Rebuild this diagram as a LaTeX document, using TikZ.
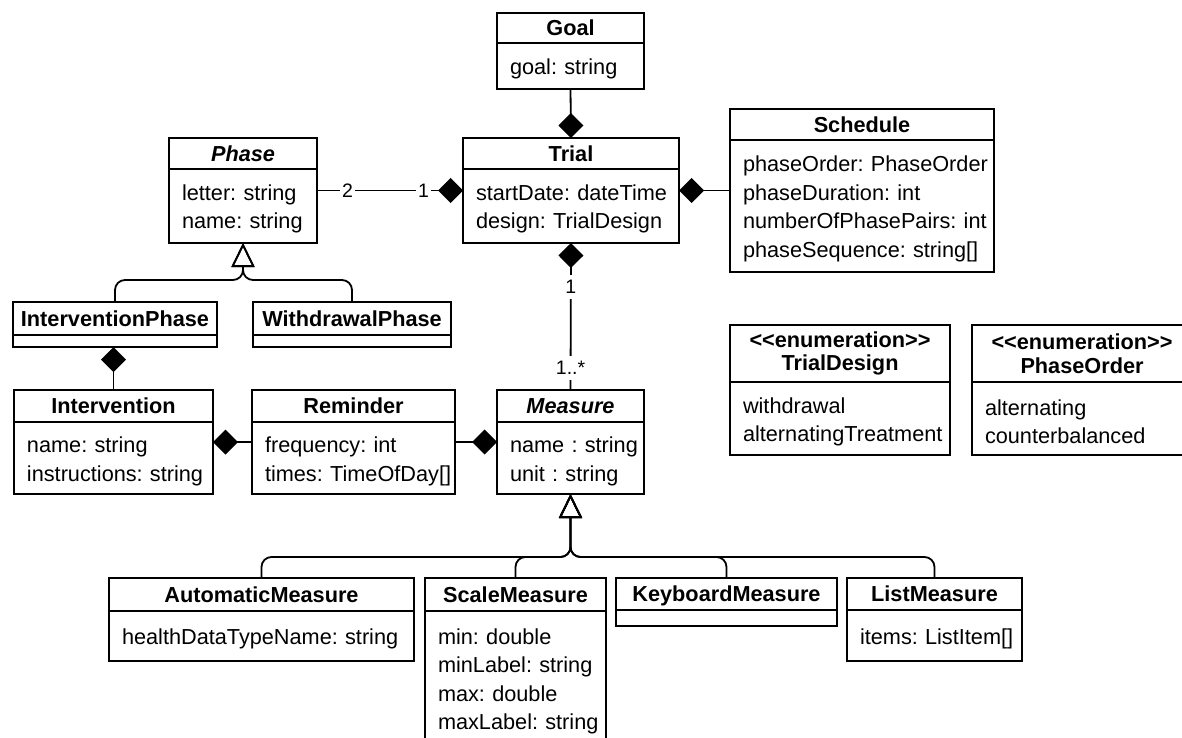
\documentclass[tikz,border=0pt]{standalone}
\usepackage{fontspec}
\setmainfont{Liberation Sans}
\usetikzlibrary{positioning, arrows.meta, fit}
\hyphenpenalty=10000
\exhyphenpenalty=10000

\begin{document}
\begin{tikzpicture}[
    x=1pt, y=-1pt,
    line width=1.8pt,
    umlhead/.style={draw, anchor=north west, outer sep=0pt, inner sep=0pt, text height=15.6pt, text depth=0pt, font=\fontsize{21.7pt}{28.5pt}\selectfont\bfseries},
    enumhead/.style={draw, anchor=north west, outer sep=0pt, inner sep=0pt, align=center, font=\fontsize{21.7pt}{23.5pt}\selectfont\bfseries},
    umlempty/.style={draw, outer sep=0pt, inner xsep=13pt, inner ysep=0pt, align=left, font=\fontsize{21.7pt}{28.5pt}\selectfont},
    umlbody/.style={umlempty, execute at begin node={\rule{0pt}{22pt}}},
    umlfit/.style={inner sep=0pt, outer sep=0pt},
    comp/.style={-{Diamond[length=25pt, width=25pt]}},
    inherit/.style={rounded corners=10pt, -{Triangle[open, length=24pt, width=23pt]}},
    mult/.style={fill=white, inner xsep=2pt, inner ysep=5pt, font=\fontsize{19.5pt}{19.5pt}\selectfont}
]
    \useasboundingbox (0,0) rectangle (1182,738);

    % Trial and its parts (top)
    \node[umlhead, minimum width=147pt, minimum height=30pt] (goalH) at (497,13) {Goal};
    \node[umlbody, text width=121pt, minimum height=46pt, below=0pt of goalH] (goalB) {goal:~string};
    \node[umlfit, fit=(goalH)(goalB)] (goal) {};

    \node[umlhead, minimum width=216pt, minimum height=31pt] (trialH) at (463,138) {Trial};
    \node[umlbody, text width=190pt, minimum height=74pt, below=0pt of trialH] (trialB) {startDate:~dateTime\\design:~TrialDesign};
    \node[umlfit, fit=(trialH)(trialB)] (trial) {};

    \node[umlhead, minimum width=148pt, minimum height=31pt] (phaseH) at (169,138) {\itshape Phase};
    \node[umlbody, text width=122pt, minimum height=74pt, below=0pt of phaseH] (phaseB) {letter:~string\\name:~string};
    \node[umlfit, fit=(phaseH)(phaseB)] (phase) {};

    \node[umlhead, minimum width=264pt, minimum height=31pt] (scheduleH) at (730,109) {Schedule};
    \node[umlbody, text width=238pt, minimum height=132pt, below=0pt of scheduleH] (scheduleB) {phaseOrder:~PhaseOrder\\phaseDuration:~int\\numberOfPhasePairs:~int\\phaseSequence:~string[]};
    \node[umlfit, fit=(scheduleH)(scheduleB)] (schedule) {};

    % Phase subclasses
    \node[umlhead, minimum width=204pt, minimum height=33pt] (iphaseH) at (13,302) {InterventionPhase};
    \node[umlempty, text width=178pt, minimum height=12pt, below=0pt of iphaseH] (iphaseB) {};
    \node[umlfit, fit=(iphaseH)(iphaseB)] (iphase) {};

    \node[umlhead, minimum width=198pt, minimum height=33pt] (wphaseH) at (253,302) {WithdrawalPhase};
    \node[umlempty, text width=172pt, minimum height=12pt, below=0pt of wphaseH] (wphaseB) {};
    \node[umlfit, fit=(wphaseH)(wphaseB)] (wphase) {};

    % Middle row
    \node[umlhead, minimum width=199pt, minimum height=32pt] (interventionH) at (14,390) {Intervention};
    \node[umlbody, text width=173pt, minimum height=72pt, below=0pt of interventionH] (interventionB) {name:~string\\instructions:~string};
    \node[umlfit, fit=(interventionH)(interventionB)] (intervention) {};

    \node[umlhead, minimum width=203pt, minimum height=32pt] (reminderH) at (252,390) {Reminder};
    \node[umlbody, text width=177pt, minimum height=72pt, below=0pt of reminderH] (reminderB) {frequency:~int\\times:~TimeOfDay[]};
    \node[umlfit, fit=(reminderH)(reminderB)] (reminder) {};

    \node[umlhead, minimum width=147pt, minimum height=32pt] (measureH) at (497,390) {\itshape Measure};
    \node[umlbody, text width=121pt, minimum height=72pt, below=0pt of measureH] (measureB) {name~:~string\\unit~:~string};
    \node[umlfit, fit=(measureH)(measureB)] (measure) {};

    % Enumerations
    \node[enumhead, minimum width=220pt, minimum height=57pt] (designH) at (730,325) {<\kern0pt<enumeration>\kern0pt>\\TrialDesign};
    \node[umlbody, text width=194pt, minimum height=73pt, below=0pt of designH] (designB) {withdrawal\\alternatingTreatment};

    \node[enumhead, minimum width=220pt, minimum height=57pt] (orderH) at (972,325) {<\kern0pt<enumeration>\kern0pt>\\PhaseOrder};
    \node[umlbody, text width=194pt, minimum height=73pt, below=0pt of orderH] (orderB) {alternating\\counterbalanced};

    % Measure subclasses
    \node[umlhead, minimum width=305pt, minimum height=33pt] (automaticH) at (109,578) {AutomaticMeasure};
    \node[umlbody, text width=279pt, minimum height=50pt, below=0pt of automaticH] (automaticB) {healthDataTypeName:~string};
    \node[umlfit, fit=(automaticH)(automaticB)] (automatic) {};

    \node[umlhead, minimum width=181pt, minimum height=33pt] (scaleH) at (425,578) {ScaleMeasure};
    \node[umlbody, text width=155pt, minimum height=134pt, below=0pt of scaleH] (scaleB) {min:~double\\minLabel:~string\\max:~double\\maxLabel:~string};
    \node[umlfit, fit=(scaleH)(scaleB)] (scale) {};

    \node[umlhead, minimum width=221pt, minimum height=32pt] (keyboardH) at (616,578) {KeyboardMeasure};
    \node[umlempty, text width=195pt, minimum height=16pt, below=0pt of keyboardH] (keyboardB) {};
    \node[umlfit, fit=(keyboardH)(keyboardB)] (keyboard) {};

    \node[umlhead, minimum width=175pt, minimum height=32pt] (listH) at (847,578) {ListMeasure};
    \node[umlbody, text width=149pt, minimum height=51pt, below=0pt of listH] (listB) {items:~ListItem[]};
    \node[umlfit, fit=(listH)(listB)] (list) {};

    % Compositions
    \draw[comp] (goal.south) -- (trial.north);
    \draw[comp] (phase.east) -- node[mult, pos=0.21] {2} node[mult, pos=0.73] {1} (trial.west);
    \draw[comp] (schedule.west) -- (trial.east);
    \draw[comp] (measure.north) -- node[mult, pos=0.15] {1..*} node[mult, pos=0.70] {1} (trial.south);
    \draw[comp] (intervention.north) -- (intervention.north |- iphase.south);
    \draw[comp] (reminder.west) -- (intervention.east);
    \draw[comp] (reminder.east) -- (measure.west);

    % Generalisations
    \coordinate (phasefork) at ([yshift=-37pt]phase.south);
    \draw[inherit] (iphase.north) |- (phasefork) -- (phase.south);
    \draw[inherit] (wphase.north) |- (phasefork) -- (phase.south);

    \coordinate (measurefork) at ([yshift=-63pt]measure.south);
    \draw[inherit] (automatic.north) |- (measurefork) -- (measure.south);
    \draw[inherit] (scale.north) |- (measurefork) -- (measure.south);
    \draw[inherit] (keyboard.north) |- (measurefork) -- (measure.south);
    \draw[inherit] (list.north) |- (measurefork) -- (measure.south);
\end{tikzpicture}
\end{document}
